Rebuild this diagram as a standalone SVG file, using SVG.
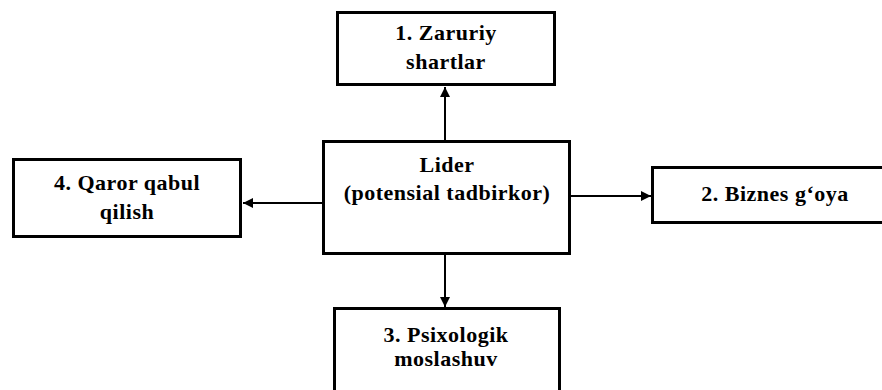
<svg xmlns="http://www.w3.org/2000/svg" width="882" height="390" viewBox="0 0 882 390">
<style>
.box{fill:#fff;stroke:#000;stroke-width:3}
.t{font-family:'Liberation Serif','DejaVu Serif',serif;font-weight:bold;font-size:22px;text-anchor:middle;fill:#000}
.c{stroke:#000;stroke-width:2;fill:none}
</style>
<defs>
<marker id="ah" viewBox="0 0 10 10" refX="10" refY="5" markerWidth="10" markerHeight="10" markerUnits="userSpaceOnUse" orient="auto">
<path d="M0,0 L10,5 L0,10 z" fill="#000"/>
</marker>
</defs>
<rect width="882" height="390" fill="#fff"/>
<g id="connectors">
<line class="c" x1="445" y1="141" x2="445" y2="87" marker-end="url(#ah)"/>
<line class="c" x1="570" y1="196" x2="651" y2="196" marker-end="url(#ah)"/>
<line class="c" x1="445" y1="253" x2="445" y2="307" marker-end="url(#ah)"/>
<line class="c" x1="323" y1="203" x2="243" y2="203" marker-end="url(#ah)"/>
</g>
<g id="lider">
<rect class="box" x="323.5" y="141.5" width="246" height="112"/>
<text class="t" x="447" y="172" letter-spacing="0.5">Lider</text>
<text class="t" x="447" y="200" letter-spacing="0.5">(potensial tadbirkor)</text>
</g>
<g id="n1">
<rect class="box" x="337.5" y="12.5" width="217" height="72"/>
<text class="t" x="446" y="40" letter-spacing="0.5">1. Zaruriy</text>
<text class="t" x="446" y="69" letter-spacing="0.5">shartlar</text>
</g>
<g id="n2">
<rect class="box" x="652.5" y="167.5" width="250" height="55"/>
<text class="t" x="775" y="201" letter-spacing="0.5">2. Biznes g‘oya</text>
</g>
<g id="n3">
<rect class="box" x="334.5" y="308.5" width="225" height="100"/>
<text class="t" x="446" y="342" letter-spacing="0.5">3. Psixologik</text>
<text class="t" x="446" y="366" letter-spacing="0.5">moslashuv</text>
</g>
<g id="n4">
<rect class="box" x="13.5" y="159.5" width="227" height="77"/>
<text class="t" x="127" y="190" letter-spacing="0.5">4. Qaror qabul</text>
<text class="t" x="127" y="219" letter-spacing="0.5">qilish</text>
</g>
</svg>
